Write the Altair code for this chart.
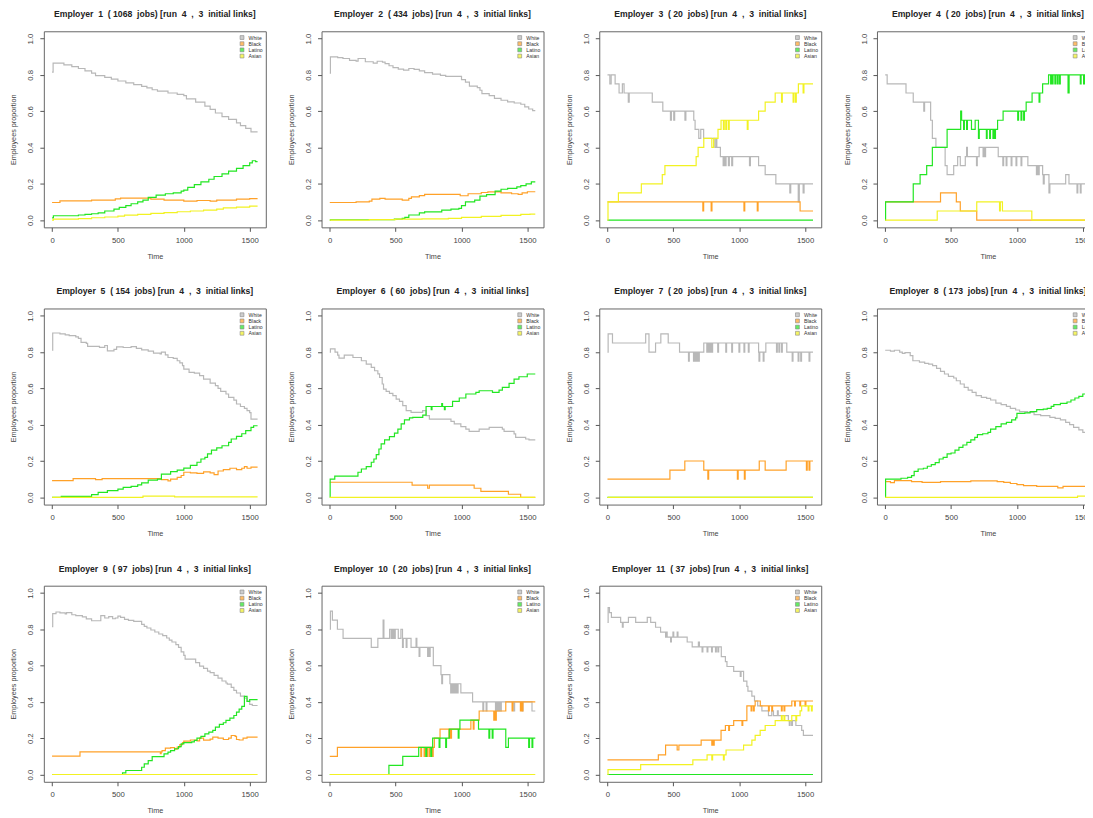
import altair as alt
import pandas as pd

RACES = ["White", "Black", "Latino", "Asian"]
COLORS = ["#b8b8b8", "#ffa128", "#22e622", "#f2f222"]
JOBS = [1068, 434, 20, 20, 154, 60, 20, 173, 97, 20, 37]
T_END = 1560
X_TICKS = [0, 500, 1000, 1500]
Y_TICKS = [0.0, 0.2, 0.4, 0.6, 0.8, 1.0]

# ---- Employer 1 ----
E1_WHITE = [(0,0.815),(8,0.865),(90,0.855),(150,0.845),(200,0.835),(250,0.822),(300,0.81),(330,0.796),(400,0.786),(450,0.776),(500,0.766),(560,0.756),(620,0.746),(680,0.736),(720,0.728),(760,0.718),(800,0.71),(880,0.70),(950,0.692),(1000,0.686),(1020,0.668),(1090,0.65),(1160,0.628),(1200,0.61),(1240,0.59),(1290,0.57),(1340,0.555),(1400,0.535),(1430,0.52),(1470,0.505),(1510,0.486)]
E1_BLACK = [(0,0.097),(60,0.106),(300,0.11),(480,0.117),(520,0.121),(750,0.116),(850,0.11),(1000,0.105),(1100,0.108),(1200,0.104),(1250,0.11),(1400,0.115),(1500,0.118)]
E1_LATINO = [(0,0.012),(10,0.024),(200,0.028),(250,0.031),(300,0.035),(350,0.04),(400,0.05),(470,0.06),(510,0.07),(560,0.08),(600,0.09),(650,0.1),(690,0.11),(730,0.125),(790,0.137),(860,0.145),(920,0.15),(980,0.16),(1000,0.165),(1030,0.18),(1080,0.195),(1130,0.21),(1190,0.225),(1230,0.24),(1290,0.255),(1340,0.27),(1400,0.285),(1450,0.30),(1500,0.315),(1520,0.327),(1545,0.322)]
E1_ASIAN = [(0,0.0),(10,0.005),(200,0.008),(300,0.013),(400,0.017),(500,0.022),(550,0.027),(650,0.031),(750,0.037),(850,0.041),(950,0.046),(1050,0.05),(1150,0.055),(1250,0.06),(1300,0.067),(1400,0.071),(1500,0.077)]

# ---- Employer 2 ----
E2_WHITE = [(0,0.81),(5,0.899),(60,0.895),(100,0.89),(150,0.88),(200,0.876),(215,0.89),(270,0.872),(330,0.865),(360,0.875),(400,0.87),(420,0.862),(450,0.85),(480,0.84),(520,0.832),(560,0.826),(600,0.835),(640,0.83),(680,0.822),(720,0.812),(780,0.804),(840,0.797),(880,0.792),(1000,0.774),(1030,0.76),(1060,0.738),(1120,0.73),(1140,0.715),(1155,0.697),(1210,0.686),(1250,0.67),(1300,0.66),(1350,0.651),(1400,0.645),(1450,0.638),(1480,0.624),(1510,0.612),(1540,0.603)]
E2_BLACK = [(0,0.097),(200,0.1),(300,0.105),(320,0.116),(380,0.12),(420,0.115),(550,0.11),(600,0.12),(620,0.128),(680,0.135),(720,0.142),(990,0.134),(1050,0.145),(1150,0.152),(1200,0.155),(1300,0.15),(1380,0.145),(1430,0.142),(1460,0.15),(1500,0.156)]
E2_LATINO = [(0,0.0),(5,0.002),(490,0.005),(550,0.009),(570,0.015),(600,0.028),(680,0.04),(720,0.045),(850,0.055),(920,0.06),(980,0.065),(1000,0.08),(1030,0.1),(1100,0.11),(1140,0.132),(1190,0.14),(1255,0.16),(1300,0.17),(1350,0.175),(1420,0.183),(1450,0.19),(1490,0.2),(1530,0.21)]
E2_ASIAN = [(0,0.0),(300,0.003),(500,0.005),(700,0.007),(900,0.009),(1000,0.015),(1150,0.02),(1300,0.026),(1450,0.031),(1520,0.033)]

# ---- Employer 3 ----
E3_WHITE = [(0,0.8),(18,0.75),(28,0.8),(58,0.75),(88,0.7),(113,0.75),(126,0.7),(158,0.65),(165,0.7),(340,0.65),(420,0.6),(478,0.55),(485,0.6),(503,0.55),(510,0.6),(588,0.55),(595,0.6),(655,0.55),(665,0.5),(693,0.45),(708,0.5),(730,0.45),(815,0.4),(825,0.45),(830,0.4),(857,0.35),(878,0.3),(885,0.35),(893,0.3),(900,0.35),(918,0.3),(925,0.35),(943,0.3),(950,0.35),(1078,0.3),(1085,0.35),(1147,0.3),(1197,0.25),(1278,0.2),(1384,0.15),(1391,0.2),(1448,0.1),(1456,0.2),(1485,0.15),(1492,0.2)]
E3_BLACK = [(0,0.1),(724,0.05),(730,0.1),(787,0.05),(793,0.1),(1036,0.05),(1042,0.1),(1137,0.05),(1143,0.1),(1462,0.05)]
E3_LATINO = [(0,0.0)]
E3_ASIAN = [(0,0.0),(4,0.1),(83,0.15),(257,0.2),(416,0.25),(436,0.3),(673,0.35),(688,0.4),(731,0.45),(792,0.4),(806,0.45),(839,0.5),(862,0.55),(880,0.5),(886,0.55),(898,0.5),(904,0.55),(918,0.5),(924,0.55),(1061,0.5),(1067,0.55),(1147,0.6),(1197,0.65),(1273,0.7),(1321,0.65),(1327,0.7),(1409,0.65),(1415,0.7),(1427,0.65),(1433,0.7),(1449,0.75),(1485,0.7),(1491,0.75)]

# ---- Employer 4 ----
E4_WHITE = [(0,0.8),(15,0.75),(158,0.7),(213,0.65),(293,0.6),(299,0.65),(345,0.55),(358,0.45),(385,0.4),(455,0.3),(470,0.25),(520,0.3),(550,0.35),(570,0.3),(608,0.35),(618,0.4),(624,0.35),(693,0.3),(699,0.35),(713,0.4),(743,0.35),(749,0.4),(756,0.35),(762,0.4),(858,0.35),(893,0.3),(899,0.35),(918,0.3),(924,0.35),(956,0.3),(962,0.35),(993,0.3),(999,0.35),(1031,0.3),(1037,0.35),(1083,0.3),(1148,0.25),(1154,0.3),(1163,0.25),(1169,0.3),(1195,0.25),(1200,0.2),(1207,0.25),(1243,0.15),(1250,0.2),(1370,0.25),(1395,0.2),(1456,0.15),(1462,0.2),(1481,0.15),(1487,0.2)]
E4_BLACK = [(0,0.1),(420,0.15),(540,0.1),(570,0.05),(695,0.0)]
E4_LATINO = [(0,0.0),(3,0.1),(213,0.2),(265,0.25),(315,0.3),(358,0.4),(470,0.5),(573,0.6),(580,0.55),(595,0.5),(601,0.55),(618,0.5),(624,0.55),(655,0.5),(683,0.55),(708,0.45),(714,0.5),(768,0.45),(774,0.5),(793,0.45),(799,0.5),(818,0.45),(824,0.5),(831,0.45),(837,0.5),(853,0.55),(895,0.6),(1006,0.55),(1012,0.6),(1031,0.55),(1037,0.6),(1051,0.55),(1057,0.6),(1070,0.65),(1115,0.7),(1168,0.65),(1174,0.7),(1195,0.75),(1240,0.8),(1256,0.75),(1262,0.8),(1268,0.75),(1274,0.8),(1288,0.75),(1294,0.8),(1306,0.75),(1312,0.8),(1323,0.75),(1329,0.8),(1388,0.7),(1396,0.8),(1481,0.75),(1487,0.8),(1506,0.75),(1512,0.8),(1531,0.75),(1537,0.8)]
E4_ASIAN = [(0,0.0),(395,0.05),(695,0.1),(868,0.05),(874,0.1),(890,0.05),(1113,0.0)]

# ---- Employer 5 ----
E5_WHITE = [(0,0.81),(5,0.905),(60,0.9),(100,0.895),(130,0.89),(180,0.884),(200,0.875),(220,0.853),(260,0.848),(270,0.831),(360,0.826),(400,0.836),(420,0.807),(470,0.815),(490,0.829),(540,0.825),(600,0.83),(640,0.82),(680,0.812),(730,0.805),(770,0.794),(820,0.79),(830,0.8),(860,0.785),(880,0.77),(920,0.765),(950,0.752),(970,0.74),(990,0.725),(1000,0.706),(1040,0.688),(1080,0.684),(1120,0.67),(1150,0.651),(1200,0.629),(1240,0.615),(1260,0.6),(1280,0.583),(1320,0.569),(1340,0.55),(1380,0.535),(1400,0.514),(1430,0.5),(1460,0.49),(1480,0.477),(1500,0.466),(1510,0.431)]
E5_BLACK = [(0,0.092),(160,0.103),(330,0.097),(380,0.103),(830,0.097),(880,0.09),(900,0.1),(950,0.11),(980,0.12),(1000,0.138),(1050,0.135),(1100,0.132),(1150,0.14),(1200,0.135),(1230,0.125),(1260,0.145),(1300,0.152),(1350,0.16),(1400,0.152),(1440,0.16),(1460,0.169),(1480,0.16),(1510,0.166)]
E5_LATINO = [(0,0.0),(70,0.005),(300,0.015),(350,0.027),(420,0.037),(500,0.045),(540,0.055),(600,0.06),(650,0.068),(680,0.079),(730,0.095),(800,0.1),(830,0.128),(900,0.141),(950,0.15),(1000,0.161),(1050,0.176),(1100,0.193),(1130,0.211),(1160,0.22),(1180,0.239),(1210,0.26),(1250,0.272),(1290,0.284),(1340,0.303),(1360,0.321),(1400,0.336),(1440,0.35),(1470,0.367),(1510,0.385),(1530,0.394)]
E5_ASIAN = [(0,0.0),(690,0.007),(930,0.002)]

# ---- Employer 6 ----
E6_WHITE = [(0,0.8),(5,0.817),(40,0.8),(60,0.783),(70,0.767),(110,0.783),(176,0.77),(240,0.752),(277,0.734),(315,0.716),(340,0.697),(365,0.68),(378,0.66),(398,0.624),(408,0.596),(428,0.583),(453,0.572),(479,0.56),(504,0.541),(529,0.528),(554,0.505),(580,0.477),(617,0.468),(705,0.477),(731,0.45),(756,0.431),(920,0.418),(945,0.404),(995,0.389),(1033,0.376),(1058,0.363),(1134,0.376),(1210,0.385),(1310,0.376),(1323,0.363),(1399,0.349),(1411,0.33),(1487,0.321),(1512,0.316)]
E6_BLACK = [(0,0.083),(625,0.067),(743,0.05),(756,0.067),(1096,0.05),(1147,0.033),(1356,0.017),(1449,0.0)]
E6_LATINO = [(0,0.0),(3,0.1),(38,0.117),(214,0.138),(240,0.156),(277,0.169),(315,0.193),(335,0.211),(353,0.235),(373,0.266),(390,0.294),(416,0.316),(453,0.334),(491,0.354),(517,0.376),(542,0.404),(567,0.426),(605,0.437),(630,0.44),(706,0.453),(731,0.5),(770,0.483),(776,0.5),(850,0.516),(856,0.5),(870,0.483),(876,0.5),(932,0.528),(983,0.547),(1033,0.569),(1109,0.578),(1134,0.587),(1235,0.578),(1285,0.59),(1310,0.605),(1361,0.628),(1399,0.651),(1436,0.664),(1499,0.679)]
E6_ASIAN = [(0,0.0)]

# ---- Employer 7 ----
E7_WHITE = [(0,0.8),(5,0.9),(38,0.85),(290,0.9),(315,0.8),(365,0.85),(405,0.9),(461,0.85),(547,0.8),(615,0.75),(621,0.8),(653,0.75),(659,0.8),(666,0.75),(672,0.8),(678,0.75),(684,0.8),(691,0.75),(697,0.8),(731,0.85),(754,0.8),(760,0.85),(767,0.8),(773,0.85),(779,0.8),(785,0.85),(792,0.8),(798,0.85),(837,0.8),(843,0.85),(898,0.8),(904,0.85),(943,0.8),(949,0.85),(998,0.8),(1004,0.85),(1036,0.8),(1042,0.85),(1069,0.8),(1075,0.85),(1147,0.8),(1150,0.75),(1156,0.8),(1182,0.75),(1188,0.8),(1202,0.85),(1283,0.8),(1289,0.85),(1301,0.8),(1307,0.85),(1321,0.8),(1327,0.85),(1361,0.8),(1402,0.75),(1408,0.8),(1447,0.75),(1453,0.8),(1467,0.75),(1473,0.8),(1530,0.75),(1536,0.8)]
E7_BLACK = [(0,0.1),(474,0.15),(587,0.2),(731,0.15),(762,0.1),(768,0.15),(986,0.1),(992,0.15),(1039,0.1),(1045,0.15),(1152,0.2),(1197,0.15),(1356,0.2),(1510,0.15),(1516,0.2),(1530,0.15),(1536,0.2)]
E7_LATINO = [(0,0.0)]
E7_ASIAN = [(0,0.0)]

# ---- Employer 8 ----
E8_WHITE = [(0,0.81),(40,0.805),(70,0.81),(110,0.8),(130,0.793),(150,0.797),(190,0.78),(210,0.752),(260,0.745),(300,0.738),(330,0.733),(360,0.725),(390,0.71),(420,0.694),(450,0.679),(480,0.666),(520,0.657),(540,0.642),(570,0.624),(600,0.605),(630,0.59),(660,0.578),(690,0.56),(730,0.55),(770,0.545),(800,0.536),(840,0.519),(880,0.51),(920,0.501),(950,0.49),(990,0.481),(1020,0.472),(1080,0.468),(1130,0.455),(1180,0.45),(1250,0.44),(1290,0.435),(1330,0.426),(1370,0.413),(1400,0.4),(1430,0.385),(1470,0.371),(1500,0.358),(1530,0.354)]
E8_BLACK = [(0,0.086),(40,0.081),(70,0.092),(200,0.086),(280,0.082),(420,0.086),(650,0.091),(800,0.09),(850,0.086),(900,0.082),(950,0.076),(1000,0.07),(1050,0.064),(1150,0.06),(1310,0.052),(1350,0.06)]
E8_LATINO = [(0,0.0),(3,0.1),(120,0.105),(170,0.11),(200,0.119),(220,0.143),(250,0.156),(290,0.16),(320,0.171),(350,0.18),(380,0.191),(410,0.211),(440,0.22),(470,0.239),(500,0.244),(530,0.26),(560,0.275),(590,0.288),(620,0.303),(650,0.316),(680,0.33),(700,0.345),(740,0.35),(780,0.358),(800,0.376),(840,0.389),(880,0.404),(920,0.413),(960,0.426),(990,0.437),(1000,0.462),(1060,0.465),(1100,0.472),(1150,0.483),(1200,0.486),(1230,0.49),(1260,0.501),(1280,0.51),(1330,0.517),(1380,0.525),(1410,0.536),(1440,0.547),(1470,0.556),(1500,0.569),(1530,0.572)]
E8_ASIAN = [(0,0.0),(1460,0.007)]

# ---- Employer 9 ----
E9_WHITE = [(0,0.815),(5,0.886),(30,0.895),(60,0.89),(100,0.885),(110,0.892),(150,0.88),(180,0.875),(230,0.868),(260,0.857),(300,0.847),(370,0.875),(400,0.862),(430,0.87),(460,0.858),(480,0.862),(500,0.872),(520,0.865),(550,0.855),(580,0.849),(620,0.844),(680,0.827),(700,0.816),(720,0.807),(750,0.796),(780,0.785),(810,0.774),(840,0.765),(870,0.752),(890,0.74),(910,0.73),(940,0.715),(960,0.70),(980,0.675),(1000,0.656),(1010,0.636),(1090,0.616),(1120,0.597),(1150,0.585),(1180,0.57),(1200,0.561),(1230,0.546),(1260,0.531),(1290,0.515),(1320,0.504),(1330,0.498),(1360,0.48),(1380,0.463),(1400,0.449),(1430,0.432),(1460,0.421),(1480,0.403),(1500,0.386),(1520,0.38)]
E9_BLACK = [(0,0.101),(212,0.125),(822,0.115),(828,0.125),(835,0.132),(860,0.145),(900,0.148),(930,0.14),(950,0.151),(970,0.165),(990,0.176),(1000,0.184),(1050,0.19),(1100,0.185),(1120,0.2),(1150,0.189),(1200,0.195),(1220,0.206),(1260,0.2),(1300,0.193),(1340,0.2),(1360,0.215),(1390,0.21),(1400,0.193),(1420,0.19),(1450,0.2),(1480,0.206)]
E9_LATINO = [(0,0.0),(535,0.009),(560,0.022),(680,0.04),(700,0.059),(730,0.077),(760,0.099),(850,0.114),(880,0.123),(900,0.132),(930,0.142),(960,0.154),(980,0.169),(1000,0.176),(1060,0.18),(1080,0.188),(1100,0.2),(1130,0.21),(1160,0.224),(1190,0.233),(1220,0.243),(1240,0.261),(1270,0.276),(1300,0.285),(1320,0.298),(1350,0.311),(1380,0.325),(1400,0.344),(1420,0.36),(1440,0.375),(1460,0.43),(1480,0.403),(1500,0.412)]
E9_ASIAN = [(0,0.0)]

# ---- Employer 10 ----
E10_WHITE = [(0,0.8),(5,0.9),(20,0.85),(58,0.8),(101,0.75),(315,0.7),(365,0.75),(405,0.85),(411,0.75),(454,0.8),(466,0.75),(472,0.8),(479,0.75),(485,0.8),(491,0.75),(497,0.8),(520,0.75),(540,0.8),(552,0.7),(558,0.75),(580,0.7),(586,0.75),(617,0.7),(655,0.75),(661,0.7),(678,0.65),(684,0.7),(743,0.65),(749,0.7),(756,0.65),(762,0.7),(786,0.6),(844,0.55),(850,0.5),(856,0.55),(912,0.5),(918,0.45),(924,0.5),(930,0.45),(936,0.5),(943,0.45),(949,0.5),(956,0.45),(962,0.5),(968,0.45),(974,0.5),(995,0.45),(1084,0.4),(1162,0.35),(1168,0.4),(1187,0.35),(1193,0.4),(1258,0.35),(1264,0.4),(1271,0.35),(1277,0.4),(1284,0.35),(1290,0.4),(1296,0.35),(1302,0.4),(1397,0.35),(1403,0.4),(1460,0.35),(1466,0.4),(1535,0.35)]
E10_BLACK = [(0,0.1),(58,0.15),(691,0.1),(697,0.15),(716,0.1),(722,0.15),(736,0.1),(742,0.15),(754,0.1),(760,0.15),(779,0.1),(785,0.15),(794,0.2),(837,0.25),(905,0.2),(911,0.25),(918,0.2),(924,0.25),(1071,0.3),(1089,0.25),(1095,0.3),(1134,0.35),(1245,0.3),(1251,0.35),(1258,0.3),(1264,0.35),(1336,0.4),(1384,0.35),(1390,0.4),(1447,0.35),(1453,0.4),(1460,0.35),(1466,0.4)]
E10_LATINO = [(0,0.0),(449,0.05),(554,0.1),(675,0.15),(729,0.1),(735,0.15),(767,0.1),(773,0.15),(781,0.2),(830,0.15),(836,0.2),(880,0.15),(886,0.2),(907,0.25),(975,0.2),(981,0.25),(988,0.3),(1129,0.25),(1208,0.2),(1214,0.25),(1233,0.2),(1239,0.25),(1336,0.15),(1356,0.2),(1510,0.15),(1516,0.2),(1535,0.15),(1541,0.2)]
E10_ASIAN = [(0,0.0)]

# ---- Employer 11 ----
E11_WHITE = [(0,0.838),(5,0.919),(15,0.892),(30,0.865),(100,0.838),(113,0.811),(119,0.838),(159,0.865),(214,0.838),(302,0.865),(328,0.838),(365,0.811),(403,0.784),(441,0.757),(447,0.784),(453,0.757),(479,0.73),(485,0.757),(497,0.784),(503,0.757),(529,0.784),(535,0.757),(605,0.73),(643,0.703),(690,0.73),(698,0.703),(718,0.676),(724,0.703),(756,0.676),(762,0.703),(790,0.676),(796,0.703),(820,0.676),(826,0.703),(838,0.676),(844,0.703),(864,0.649),(895,0.622),(907,0.595),(958,0.568),(1008,0.541),(1014,0.568),(1033,0.514),(1058,0.486),(1066,0.459),(1096,0.432),(1116,0.405),(1140,0.378),(1172,0.351),(1222,0.324),(1247,0.351),(1260,0.324),(1290,0.351),(1296,0.324),(1373,0.297),(1380,0.27),(1386,0.297),(1398,0.27),(1404,0.297),(1430,0.27),(1474,0.243),(1487,0.216)]
E11_BLACK = [(0,0.081),(386,0.108),(441,0.162),(529,0.135),(542,0.162),(711,0.189),(792,0.162),(798,0.189),(804,0.162),(810,0.189),(862,0.243),(895,0.27),(920,0.243),(926,0.27),(958,0.297),(1021,0.27),(1027,0.297),(1058,0.378),(1090,0.351),(1096,0.378),(1108,0.351),(1114,0.378),(1121,0.405),(1160,0.378),(1222,0.351),(1228,0.378),(1247,0.351),(1253,0.378),(1320,0.351),(1326,0.378),(1340,0.351),(1346,0.378),(1399,0.405),(1420,0.378),(1426,0.405),(1460,0.378),(1466,0.405),(1500,0.378),(1506,0.405)]
E11_LATINO = [(0,0.0)]
E11_ASIAN = [(0,0.0),(4,0.027),(252,0.054),(648,0.081),(756,0.108),(792,0.081),(798,0.108),(880,0.081),(886,0.108),(900,0.135),(1033,0.162),(1096,0.189),(1121,0.216),(1159,0.243),(1197,0.27),(1273,0.297),(1320,0.324),(1326,0.297),(1340,0.324),(1346,0.297),(1399,0.324),(1430,0.297),(1436,0.324),(1462,0.351),(1474,0.378),(1523,0.351),(1529,0.378),(1548,0.351),(1554,0.378)]

SERIES = {
    1: [E1_WHITE, E1_BLACK, E1_LATINO, E1_ASIAN],
    2: [E2_WHITE, E2_BLACK, E2_LATINO, E2_ASIAN],
    3: [E3_WHITE, E3_BLACK, E3_LATINO, E3_ASIAN],
    4: [E4_WHITE, E4_BLACK, E4_LATINO, E4_ASIAN],
    5: [E5_WHITE, E5_BLACK, E5_LATINO, E5_ASIAN],
    6: [E6_WHITE, E6_BLACK, E6_LATINO, E6_ASIAN],
    7: [E7_WHITE, E7_BLACK, E7_LATINO, E7_ASIAN],
    8: [E8_WHITE, E8_BLACK, E8_LATINO, E8_ASIAN],
    9: [E9_WHITE, E9_BLACK, E9_LATINO, E9_ASIAN],
    10: [E10_WHITE, E10_BLACK, E10_LATINO, E10_ASIAN],
    11: [E11_WHITE, E11_BLACK, E11_LATINO, E11_ASIAN],
}

records = []
for emp, lists in SERIES.items():
    for race, pts in zip(RACES, lists):
        for t, v in pts:
            records.append({"emp": emp, "race": race, "t": t, "v": v})
        records.append({"emp": emp, "race": race, "t": T_END, "v": pts[-1][1]})
df = pd.DataFrame(records)

FONT = "Liberation Sans"
W = 223
H = 197
X_DOMAIN = [-62.4, 1622.4]
Y_DOMAIN = [-0.04, 1.04]


def panel(emp):
    d = df[df["emp"] == emp]
    n = JOBS[emp - 1]
    title = f"Employer\u00a0 {emp}\u00a0 ( {n}\u00a0 jobs) [run\u00a0 4\u00a0 ,\u00a0 3\u00a0 initial links]"
    xs = alt.X("t:Q", scale=alt.Scale(domain=X_DOMAIN, nice=False, zero=False),
               axis=alt.Axis(values=X_TICKS, format="d", title="Time",
                             labelPadding=5, titlePadding=8))
    ys = alt.Y("v:Q", scale=alt.Scale(domain=Y_DOMAIN, nice=False, zero=False),
               axis=alt.Axis(values=Y_TICKS, format=".1f", title="Employees proportion",
                             labelAngle=-90, labelAlign="center", labelBaseline="bottom",
                             labelPadding=5, titlePadding=9))
    cscale = alt.Scale(domain=RACES, range=COLORS)
    layers = []
    for r in RACES:
        layers.append(
            alt.Chart(d).transform_filter(alt.datum.race == r)
            .mark_line(interpolate="step-after", strokeWidth=1.2, clip=True)
            .encode(x=xs, y=ys, color=alt.Color("race:N", scale=cscale, legend=None))
        )
    leg = (
        alt.Chart(d).transform_filter("datum.v > 5")
        .mark_square(size=15, stroke="#555555", strokeWidth=0.6)
        .encode(
            x=xs, y=ys,
            fill=alt.Fill("race:N", scale=cscale,
                          legend=alt.Legend(title=None, orient="none", legendX=196.5, legendY=3.7,
                                            padding=0,
                                            symbolType="square", symbolSize=15,
                                            symbolStrokeColor="#555555", symbolStrokeWidth=0.6,
                                            labelFont=FONT, labelFontSize=5.2, labelColor="#333333",
                                            rowPadding=-0.8, labelOffset=4)),
        )
    )
    return alt.layer(*layers, leg).properties(
        width=W, height=H,
        title=alt.TitleParams(text=title, font=FONT, fontSize=8.7, fontWeight="bold",
                              color="#222222", anchor="middle", frame="group",
                              offset=5.5, baseline="alphabetic"),
    )


def row(emps):
    return alt.hconcat(*[panel(e) for e in emps], spacing=20).resolve_scale(
        x="independent", y="independent", fill="independent"
    ).resolve_legend(fill="independent")


chart = alt.vconcat(row([1, 2, 3, 4]), row([5, 6, 7, 8]), row([9, 10, 11]), spacing=26.5).resolve_scale(
    x="independent", y="independent", fill="independent"
).resolve_legend(fill="independent").properties(
    padding={"left": 1, "top": -0.5, "right": -15, "bottom": 0},
    background="white",
).configure_axis(
    grid=False, domain=False, tickSize=4, tickColor="#555555", tickWidth=1,
    labelFont=FONT, labelFontSize=7.8, labelColor="#444444",
    titleFont=FONT, titleFontSize=7.3, titleFontWeight="normal", titleColor="#444444",
).configure_view(stroke="#666666", strokeWidth=1)

chart.save("out.html", embed_options={"renderer": "svg", "actions": False})
